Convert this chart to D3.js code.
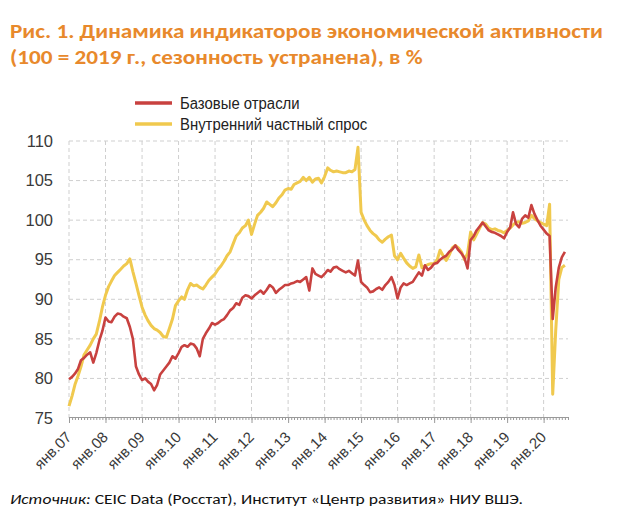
<!DOCTYPE html>
<html><head><meta charset="utf-8">
<script src="https://cdn.jsdelivr.net/npm/d3@7"></script>
<style>body{margin:0;background:#fff}</style>
</head><body>
<svg id="chart" width="620" height="520"></svg>
<script>
// ---- data ----
const titleLines = ["Рис. 1. Динамика индикаторов экономической активности",
                    "(100 = 2019 г., сезонность устранена), в %"];
const seriesNames = ["Базовые отрасли", "Внутренний частный спрос"];
const sourceItalic = "Источник:";
const sourceRest = " CEIC Data (Росстат), Институт «Центр развития» НИУ ВШЭ.";
const xTickLabels = ["янв.07","янв.08","янв.09","янв.10","янв.11","янв.12","янв.13",
                     "янв.14","янв.15","янв.16","янв.17","янв.18","янв.19","янв.20"];
const yTicks = [75, 80, 85, 90, 95, 100, 105, 110];
// monthly values, Jan 2007 .. Aug 2020
const baseIndustries = [
  79.9, 80.2, 80.6, 81.2, 82.3, 82.6, 83.0, 83.3, 82.0, 83.2, 84.8, 86.0,
  87.7, 87.2, 87.1, 87.8, 88.2, 88.1, 87.8, 87.6, 86.5, 85.0, 81.5, 80.5,
  79.8, 80.0, 79.6, 79.3, 78.5, 79.2, 80.5, 81.0, 81.5, 82.0, 82.8, 82.5,
  83.2, 84.0, 84.2, 84.0, 84.4, 84.3, 83.8, 82.8, 85.0, 85.7, 86.3, 87.0,
  86.8, 87.0, 87.3, 87.5, 88.0, 88.6, 88.9, 89.5, 89.3, 90.2, 90.5, 90.4,
  90.1, 90.5, 90.8, 91.1, 90.7, 91.2, 91.8, 91.5, 90.8, 91.2, 91.5, 91.8,
  91.8, 92.0, 92.1, 92.3, 92.2, 92.5, 92.8, 91.1, 93.9, 93.2, 93.0, 92.8,
  93.2, 93.7, 93.5, 94.0, 94.1, 93.8, 93.6, 93.4, 93.6, 93.3, 93.0, 94.9,
  92.2, 91.8, 91.5, 90.9, 91.0, 91.3, 91.5, 91.2, 91.8, 92.2, 92.8, 91.8,
  90.1, 91.5, 92.0, 91.8, 92.0, 92.2, 92.8, 93.4, 93.0, 94.3, 93.7, 94.0,
  94.5, 94.6, 95.0, 95.3, 95.5, 96.0, 96.3, 96.8, 96.2, 95.8, 95.2, 93.9,
  97.5, 98.0, 98.7, 99.2, 99.7, 99.2, 98.7, 98.5, 98.4, 98.2, 98.0, 97.7,
  98.5, 99.1, 101.0, 99.5, 99.1, 100.2, 100.6, 100.3, 101.9, 100.8, 100.0, 99.3,
  98.8, 98.3, 98.0, 87.5, 91.5, 94.0, 95.3, 96.0
];
const privateDemand = [
  76.5, 77.8, 79.2, 80.3, 81.5, 83.0, 83.6, 84.2, 85.0, 85.6, 87.2, 89.0,
  90.5, 91.6, 92.3, 93.0, 93.4, 93.8, 94.2, 94.5, 95.1, 93.5, 92.0, 90.5,
  89.0, 88.0, 87.3, 86.7, 86.3, 86.1, 85.8, 85.3, 85.2, 86.3, 87.5, 89.2,
  89.8, 90.3, 90.0, 91.2, 92.0, 91.7, 91.8, 91.5, 91.3, 91.8, 92.4, 92.8,
  93.2, 93.8, 94.2, 94.8, 95.5, 96.0, 97.0, 98.0, 98.4, 99.0, 99.3, 100.0,
  98.2, 99.5, 100.6, 101.0, 101.5, 102.3, 102.0, 101.7, 102.2, 102.8, 103.2, 103.8,
  104.0, 103.9, 104.5, 104.7, 104.9, 105.4, 105.0, 105.4, 104.8, 105.2, 105.3, 104.7,
  105.5, 106.6, 106.3, 106.1, 106.2, 106.1, 106.0, 106.0, 106.2, 106.1, 106.4, 109.2,
  101.0, 100.0, 99.3, 98.7, 98.3, 98.0, 97.5, 97.2, 97.6, 97.9, 98.1, 95.5,
  95.0, 95.8, 95.2, 94.6, 94.2, 93.9, 94.1, 95.6, 94.0, 94.2, 94.4, 94.5,
  94.5, 95.0, 96.2, 95.5, 94.9, 95.6, 96.5, 96.8, 96.5, 96.0, 95.0, 95.8,
  98.5, 97.5, 98.2, 99.0, 99.7, 99.5, 99.0, 98.8, 98.9, 98.7, 98.6, 98.4,
  98.7, 99.0, 99.4, 99.7, 99.8, 99.6, 99.7, 99.9, 100.6, 100.2, 99.9, 99.7,
  99.5, 99.3, 102.0, 78.0, 86.0, 92.5, 94.0, 94.3
];
const colors = ["#c8413f", "#f0c94e"];

// ---- layout ----
const svg = d3.select("#chart");
const pLeft = 69, pRight = 568, pTop = 141, pBottom = 418;
const monthDate = i => new Date(2007, i, 1);
const x = d3.scaleTime().domain([new Date(2007,0,1), new Date(2020,8,1)]).range([pLeft, pRight]);
const y = d3.scaleLinear().domain([75, 110]).range([pBottom, pTop]);

// title (condensed to mimic the narrow original face)
const titleG = svg.append("g");
const titleNodes = titleLines.map((t, i) =>
  titleG.append("text").attr("x", 10).attr("y", 38 + i * 26)
    .attr("font-family", "Carlito, 'Open Sans', sans-serif").attr("font-weight", "bold")
    .attr("font-size", 21).attr("fill", "#e8892c").text(t));
{
  const w0 = titleNodes[0].node().getComputedTextLength();
  const k = 593 / w0;
  titleNodes.forEach(n => {
    const w = n.node().getComputedTextLength();
    n.attr("textLength", w * k).attr("lengthAdjust", "spacingAndGlyphs");
  });
}

// gridlines
const grid = svg.append("g").attr("stroke", "#cfcfcf").attr("stroke-dasharray", "4,3").attr("stroke-width", 1);
yTicks.filter(v => v > 75).forEach(v => {
  grid.append("line").attr("x1", pLeft).attr("x2", pRight).attr("y1", y(v)).attr("y2", y(v));
});
xTickLabels.forEach((lab, i) => {
  const d = new Date(2007 + i, 0, 1);
  grid.append("line").attr("x1", x(d)).attr("x2", x(d)).attr("y1", pTop).attr("y2", pBottom);
});

// y axis labels
const yAxis = d3.axisLeft(y).tickValues(yTicks).tickSize(0).tickPadding(0);
const yg = svg.append("g").attr("transform", `translate(${pLeft - 16},0)`).call(yAxis);
yg.select(".domain").remove();
yg.selectAll("text").attr("font-family", "'Liberation Sans', Arial, sans-serif")
  .attr("font-size", 16.5).attr("fill", "#3a3a3a");

// x axis: monthly minor ticks
const months = d3.range(0, 165).map(monthDate);
const xMinor = d3.axisBottom(x).tickValues(months).tickSize(3).tickFormat("");
const xm = svg.append("g").attr("transform", `translate(0,${pBottom - 1})`).call(xMinor);
xm.selectAll("line").attr("stroke", "#9a9a9a");
xm.select(".domain").attr("stroke", "#9a9a9a");
const yearDates = xTickLabels.map((l, i) => new Date(2007 + i, 0, 1));
const xMajor = d3.axisBottom(x).tickValues(yearDates).tickSize(6)
  .tickFormat((d, i) => xTickLabels[i]);
const xg = svg.append("g").attr("transform", `translate(0,${pBottom - 1})`).call(xMajor);
xg.select(".domain").remove();
xg.selectAll("line").attr("stroke", "#9a9a9a");
xg.selectAll("text")
  .attr("font-family", "'Liberation Sans', Arial, sans-serif").attr("font-size", 15).attr("fill", "#3a3a3a")
  .attr("text-anchor", "end").attr("dy", 0).attr("y", 0)
  .attr("transform", "translate(3,21) rotate(-45)");

// lines
const line = d3.line().x((d, i) => x(monthDate(i))).y(d => y(d));
svg.append("path").datum(privateDemand).attr("fill", "none").attr("stroke", colors[1])
  .attr("stroke-width", 3).attr("stroke-linejoin", "round").attr("d", line);
svg.append("path").datum(baseIndustries).attr("fill", "none").attr("stroke", colors[0])
  .attr("stroke-width", 2.6).attr("stroke-linejoin", "round").attr("d", line);

// legend
const legend = svg.append("g");
seriesNames.forEach((n, i) => {
  const ly = 103 + i * 21;
  legend.append("line").attr("x1", 135).attr("x2", 172).attr("y1", ly).attr("y2", ly)
    .attr("stroke", colors[i]).attr("stroke-width", 3.5);
  const t = legend.append("text").attr("x", 180).attr("y", ly + 5.5)
    .attr("font-family", "'Liberation Sans', Arial, sans-serif").attr("font-size", 16)
    .attr("fill", "#222").text(n);
  const w = t.node().getComputedTextLength();
  t.attr("textLength", w * 0.93).attr("lengthAdjust", "spacingAndGlyphs");
});

// source
const src = svg.append("text").attr("x", 10).attr("y", 504)
  .attr("font-family", "Carlito, 'Open Sans', sans-serif").attr("font-size", 15).attr("fill", "#111");
src.append("tspan").attr("font-style", "italic").text(sourceItalic);
src.append("tspan").text(sourceRest);
src.attr("textLength", 513).attr("lengthAdjust", "spacingAndGlyphs");
</script>
</body></html>
